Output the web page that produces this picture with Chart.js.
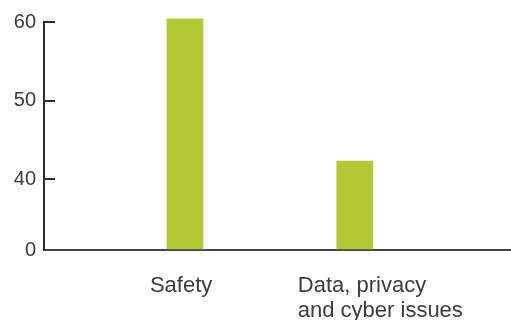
<!DOCTYPE html>
<html>
<head>
<meta charset="utf-8">
<script src="https://cdn.jsdelivr.net/npm/chart.js@4"></script>
<style>
  html, body { margin: 0; padding: 0; background: #fff; }
  #wrap { width: 511px; height: 320px; }
</style>
</head>
<body>
<div id="wrap"><canvas id="chart"></canvas></div>
<script>
// categories and values
const categories = [["Safety"], ["Data, privacy", "and cyber issues"]];
const values = [60.4, 42.3];

// y axis is broken: bottom of the axis is labelled "0"
const yTicks = [40, 50, 60];
const yBreak = 31;       // axis value where the break sits, shown as "0"
const yBreakLabel = "0";
const yMax = 60;

const barColor = "#b2c934";
const axisColor = "#2e2e2e";
const textColor = "#3c3c3c";
const labelShift = [-35, -57]; // left edge of each label relative to bar centre

// category labels drawn under the bars, left aligned like the original
const categoryLabels = {
  id: "categoryLabels",
  afterDraw(chart) {
    const ctx = chart.ctx;
    const xs = chart.scales.x;
    ctx.save();
    ctx.font = '22px "Liberation Sans", Arial, sans-serif';
    ctx.fillStyle = textColor;
    ctx.textAlign = "left";
    ctx.textBaseline = "alphabetic";
    categories.forEach((lines, i) => {
      const x = xs.getPixelForValue(i + 1) + labelShift[i];
      lines.forEach((line, j) => {
        ctx.fillText(line, x, chart.chartArea.bottom + 42 + j * 25);
      });
    });
    ctx.restore();
  }
};

const ctx = document.getElementById("chart").getContext("2d");
new Chart(ctx, {
  type: "bar",
  data: {
    datasets: [
      {
        data: values.map((v, i) => ({ x: i + 1, y: v })),
        backgroundColor: barColor,
        borderWidth: 0,
        barThickness: 36,
        base: yBreak,
        clip: false,
      },
    ],
  },
  options: {
    responsive: true,
    maintainAspectRatio: false,
    animation: false,
    layout: { padding: { top: 22, right: 0, left: 0, bottom: 0 } },
    plugins: {
      legend: { display: false },
      tooltip: { enabled: false },
    },
    scales: {
      x: {
        type: "linear",
        offset: false,
        min: 0.17,
        max: 2.92,
        ticks: { display: false },
        grid: { display: false },
        border: { display: true, color: "#444444", width: 2 },
        afterFit: (scale) => { scale.height = 70; },
      },
      y: {
        min: yBreak,
        max: yMax,
        afterBuildTicks: (scale) => {
          scale.ticks = [yBreak].concat(yTicks).map(v => ({ value: v }));
        },
        ticks: {
          color: textColor,
          font: { family: '"Liberation Sans", Arial, sans-serif', size: 20 },
          padding: 19,
          callback: (v) => (v === yBreak ? yBreakLabel : String(v)),
        },
        grid: {
          display: true,
          drawOnChartArea: false,
          drawTicks: true,
          tickLength: -11,
          color: axisColor,
          lineWidth: 2,
        },
        border: { display: true, color: axisColor, width: 2 },
        afterFit: (scale) => {
          scale.width = 44;
          scale.paddingTop = 0;
          scale.paddingBottom = 0;
        },
      },
    },
  },
  plugins: [categoryLabels],
});
</script>
</body>
</html>
